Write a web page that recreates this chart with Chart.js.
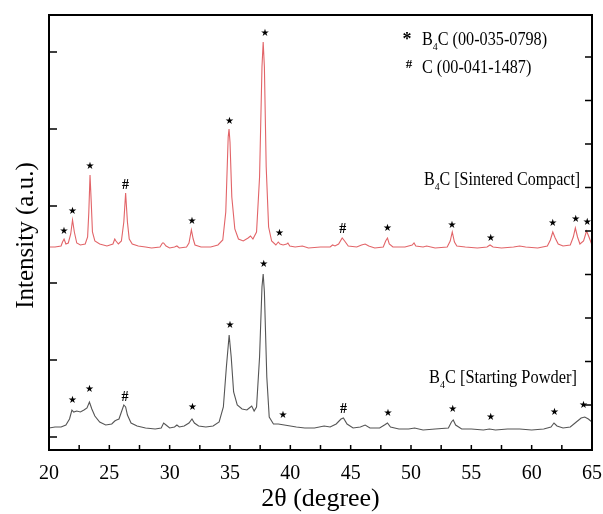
<!DOCTYPE html>
<html>
<head>
<meta charset="utf-8">
<script src="https://cdn.jsdelivr.net/npm/chart.js@4.4.0/dist/chart.umd.min.js"></script>
<style>
  html, body { margin: 0; padding: 0; background: #fff; }
  #box { width: 603px; height: 514px; }
</style>
</head>
<body>
<div id="box"><canvas id="xrd"></canvas></div>
<script>
// 2theta (degree) and intensity (a.u.)
const redX = [20.0, 20.5, 21.0, 21.12, 21.25, 21.4, 21.6, 21.8, 21.95, 22.1, 22.3, 22.6, 23.0, 23.2, 23.3, 23.4, 23.5, 23.6, 23.8, 24.2, 24.8, 25.3, 25.45, 25.55, 25.75, 26.0, 26.2, 26.35, 26.5, 26.65, 26.9, 27.4, 28.0, 28.5, 29.2, 29.4, 29.5, 29.7, 30.0, 30.4, 30.6, 30.8, 31.4, 31.6, 31.8, 31.95, 32.1, 32.6, 33.4, 34.0, 34.4, 34.65, 34.85, 34.92, 35.0, 35.15, 35.4, 35.7, 36.1, 36.5, 36.7, 36.9, 37.2, 37.45, 37.65, 37.75, 37.85, 38.0, 38.2, 38.45, 38.8, 39.0, 39.15, 39.4, 39.7, 39.8, 39.95, 40.4, 41.0, 41.5, 42.5, 43.3, 43.5, 43.7, 44.0, 44.3, 44.5, 44.8, 45.5, 45.9, 46.2, 46.5, 47.0, 47.7, 47.9, 48.05, 48.2, 48.5, 49.5, 50.1, 50.25, 50.4, 51.0, 51.3, 52.0, 53.0, 53.25, 53.42, 53.6, 53.8, 54.5, 55.5, 56.3, 56.55, 56.8, 57.5, 58.5, 59.0, 59.5, 60.5, 61.3, 61.55, 61.75, 61.95, 62.2, 62.6, 63.2, 63.45, 63.62, 63.8, 64.0, 64.3, 64.55, 64.75, 65.0];
const redY = [190, 190, 191, 195, 198, 193, 194, 203, 217, 205, 194, 192, 193, 200, 225, 262, 235, 205, 196, 193, 191, 193, 198, 196, 193, 196, 215, 244, 215, 198, 193, 191, 190, 189, 190, 194, 194, 191, 189, 190, 191, 189, 190, 194, 207, 198, 192, 190, 190, 192, 197, 225, 300, 308, 295, 240, 208, 198, 196, 199, 201, 198, 205, 260, 370, 395, 370, 270, 210, 196, 192, 195, 193, 192, 193, 194, 191, 190, 191, 189, 190, 190, 192, 191, 193, 199, 196, 191, 190, 192, 193, 191, 189, 190, 196, 199, 193, 190, 190, 192, 194, 191, 190, 191, 189, 190, 196, 205, 195, 191, 190, 189, 190, 192, 190, 189, 190, 191, 190, 189, 191, 197, 205, 199, 193, 191, 192, 200, 209, 200, 193, 196, 206, 200, 192];

const blackX = [20.0, 20.5, 21.0, 21.4, 21.7, 21.9, 22.05, 22.3, 22.6, 22.9, 23.15, 23.35, 23.55, 23.8, 24.2, 24.7, 25.2, 25.45, 25.6, 25.8, 26.0, 26.2, 26.35, 26.5, 26.8, 27.3, 28.0, 28.8, 29.3, 29.5, 29.7, 30.0, 30.4, 30.6, 30.8, 31.2, 31.6, 31.85, 32.05, 32.4, 33.0, 33.6, 34.1, 34.45, 34.7, 34.93, 35.1, 35.3, 35.6, 36.0, 36.4, 36.6, 36.8, 37.0, 37.2, 37.45, 37.65, 37.75, 37.85, 38.05, 38.25, 38.6, 39.0, 39.5, 40.0, 40.5, 41.2, 42.0, 42.8, 43.3, 43.8, 44.2, 44.4, 44.7, 45.2, 45.8, 46.2, 46.6, 47.4, 47.8, 48.05, 48.3, 49.0, 49.8, 50.3, 51.0, 52.0, 53.1, 53.35, 53.5, 53.7, 54.2, 55.0, 56.0, 56.5, 57.0, 58.0, 59.0, 60.0, 61.0, 61.6, 61.85, 62.1, 62.6, 63.2, 63.7, 64.1, 64.4, 64.7, 65.0];
const blackY = [9, 10, 10, 12, 18, 27, 25, 26, 25, 27, 29, 35, 28, 21, 15, 12, 13, 16, 17, 18, 25, 32, 30, 22, 14, 11, 9, 8, 9, 14, 12, 9, 10, 12, 10, 11, 14, 18, 14, 11, 10, 11, 15, 30, 70, 102, 80, 45, 32, 28, 27, 29, 31, 26, 30, 80, 150, 163, 145, 60, 20, 13, 13, 12, 11, 10, 9, 9, 11, 10, 13, 18, 19, 13, 9, 10, 12, 9, 9, 12, 14, 10, 8, 8, 9, 7, 8, 9, 15, 17, 12, 8, 8, 7, 8, 7, 8, 8, 7, 8, 10, 14, 11, 9, 10, 15, 19, 20, 18, 15];

// phase marks: * = B4C, # = C
const redMarkX = [21.25, 21.95, 23.4, 26.35, 31.85, 34.95, 37.9, 39.1, 44.35, 48.05, 53.4, 56.6, 61.75, 63.65, 64.6];
const redMarkY = [206, 226, 271, 252, 216, 316, 404, 204, 208, 209, 212, 199, 214, 218, 215];
const redMarkSym = ['*', '*', '*', '#', '*', '*', '*', '*', '#', '*', '*', '*', '*', '*', '*'];

const blackMarkX = [21.95, 23.35, 26.3, 31.9, 35.0, 37.8, 39.4, 44.4, 48.1, 53.45, 56.6, 61.9, 64.3];
const blackMarkY = [37, 48, 40, 30, 112, 173, 22, 28, 24, 28, 20, 25, 32];
const blackMarkSym = ['*', '*', '#', '*', '*', '*', '*', '#', '*', '*', '*', '*', '*'];

const xTickLabels = [20, 25, 30, 35, 40, 45, 50, 55, 60, 65];
const xTickMarks = [20, 22.5, 25, 27.5, 30, 32.5, 35, 37.5, 40, 42.5, 45, 47.5, 50, 52.5, 55, 57.5, 60, 62.5, 65];
const leftTicks = [0, 77, 154, 231, 308, 385];
const rightTicks = [32, 75.5, 119, 162.5, 206, 249.5, 293, 336.5, 380];

const yTitle = 'Intensity (a.u.)';
const xTitle = '2θ (degree)';
const legendB4C = [['B'], ['4', true], ['C (00-035-0798)']];
const legendC = [['C (00-041-1487)']];
const labelSintered = [['B'], ['4', true], ['C [Sintered Compact]']];
const labelPowder = [['B'], ['4', true], ['C [Starting Powder]']];

const serif = '"Liberation Serif", "Times New Roman", serif';

function subText(ctx, parts, x, y, size, squash) {
  ctx.save();
  ctx.translate(x, y);
  ctx.scale(squash, 1);
  ctx.textAlign = 'left';
  ctx.textBaseline = 'alphabetic';
  let cx = 0;
  parts.forEach(([t, sub]) => {
    ctx.font = (sub ? Math.round(size * 0.62) : size) + 'px ' + serif;
    ctx.fillText(t, cx, sub ? size * 0.28 : 0);
    cx += ctx.measureText(t).width;
  });
  ctx.restore();
}

const decor = {
  id: 'decor',
  afterDraw(chart) {
    const { ctx, chartArea: a, scales: { x, y } } = chart;
    ctx.save();
    ctx.strokeStyle = '#000';
    ctx.fillStyle = '#000';

    // frame and inward ticks
    ctx.lineWidth = 2;
    ctx.strokeRect(a.left, a.top, a.right - a.left, a.bottom - a.top);
    ctx.lineWidth = 1.5;
    ctx.beginPath();
    leftTicks.forEach(v => {
      const py = y.getPixelForValue(v);
      ctx.moveTo(a.left, py);
      ctx.lineTo(a.left + 8, py);
    });
    rightTicks.forEach(v => {
      const py = y.getPixelForValue(v);
      ctx.moveTo(a.right, py);
      ctx.lineTo(a.right - 7, py);
    });
    xTickMarks.forEach(v => {
      const px = x.getPixelForValue(v);
      ctx.moveTo(px, a.bottom);
      ctx.lineTo(px, a.bottom - 5);
    });
    ctx.stroke();

    // x tick labels
    ctx.textAlign = 'center';
    ctx.textBaseline = 'middle';
    ctx.font = '20px ' + serif;
    xTickLabels.forEach(v => ctx.fillText(String(v), x.getPixelForValue(v), a.bottom + 24));

    // peak marks
    const marks = (xs, ys, syms) => xs.forEach((v, i) => {
      const px = x.getPixelForValue(v);
      const py = y.getPixelForValue(ys[i]);
      if (syms[i] === '*') {
        ctx.font = '10px "DejaVu Sans"';
        ctx.fillText('★', px, py);
      } else {
        ctx.font = 'bold 14px ' + serif;
        ctx.fillText('#', px, py);
      }
    });
    marks(redMarkX, redMarkY, redMarkSym);
    marks(blackMarkX, blackMarkY, blackMarkSym);

    // y title
    ctx.save();
    ctx.translate(a.left - 23, (a.top + a.bottom) / 2 + 3);
    ctx.rotate(-Math.PI / 2);
    ctx.font = '25px ' + serif;
    ctx.fillText(yTitle, 0, 0);
    ctx.restore();

    // legend text
    ctx.font = 'bold 18px ' + serif;
    ctx.fillText('*', 407, 40);
    ctx.font = 'bold 13px ' + serif;
    ctx.fillText('#', 409, 65);
    subText(ctx, legendB4C, 422, 45, 18, 0.9);
    subText(ctx, legendC, 422, 73, 18, 0.9);
    subText(ctx, labelSintered, 424, 185, 18, 0.89);
    subText(ctx, labelPowder, 429, 383, 18, 0.91);
    ctx.restore();
  }
};

new Chart(document.getElementById('xrd'), {
  type: 'line',
  data: {
    datasets: [{
      label: 'Sintered Compact',
      data: redX.map((v, i) => ({ x: v, y: redY[i] })),
      borderColor: '#e26468',
      borderWidth: 1.1,
      pointRadius: 0,
      tension: 0
    }, {
      label: 'Starting Powder',
      data: blackX.map((v, i) => ({ x: v, y: blackY[i] })),
      borderColor: '#555555',
      borderWidth: 1.1,
      pointRadius: 0,
      tension: 0
    }]
  },
  options: {
    responsive: true,
    maintainAspectRatio: false,
    animation: false,
    devicePixelRatio: 1,
    layout: { padding: { left: 49, right: 11, top: 15, bottom: 0 } },
    plugins: { legend: { display: false }, tooltip: { enabled: false } },
    scales: {
      x: {
        type: 'linear',
        min: 20,
        max: 65,
        afterBuildTicks: s => { s.ticks = xTickLabels.map(v => ({ value: v })); },
        grid: { display: false, drawTicks: false },
        border: { display: false },
        ticks: { display: false },
        title: {
          display: true,
          text: xTitle,
          color: '#000',
          font: { family: serif, size: 26, lineHeight: 1 },
          padding: { top: 36, bottom: 2 }
        }
      },
      y: {
        type: 'linear',
        display: false,
        min: -13,
        max: 422
      }
    }
  },
  plugins: [decor]
});
</script>
</body>
</html>
